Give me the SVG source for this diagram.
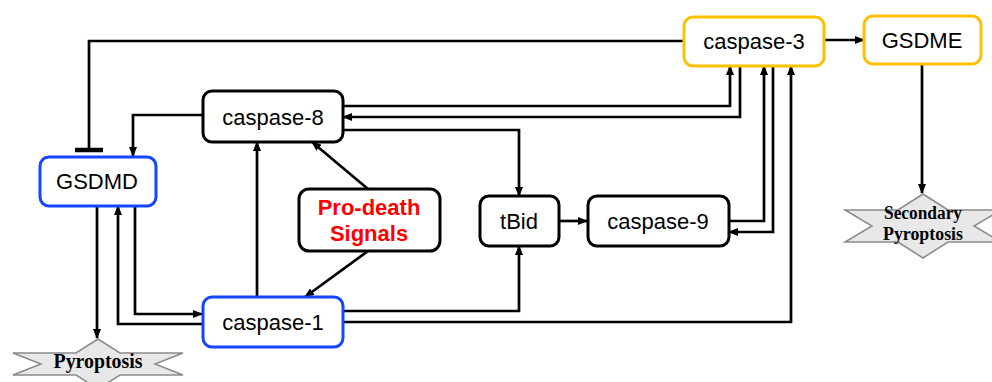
<svg xmlns="http://www.w3.org/2000/svg" width="992" height="382" viewBox="0 0 992 382">
<defs>
<style>
.box{fill:#fff;stroke-width:3}
.blk{stroke:#000}
.blue{stroke:#1446ff}
.gold{stroke:#ffc000}
.lbl{font-family:"Liberation Sans",Arial,sans-serif;font-size:22px;fill:#000;text-anchor:middle}
.red{font-family:"Liberation Sans",Arial,sans-serif;font-size:22px;font-weight:bold;fill:#ff0000;text-anchor:middle}
.star{fill:#e8e8e8;stroke:#8a8a8a;stroke-width:1.5}
.stxt{font-family:"Liberation Serif","Times New Roman",serif;font-weight:bold;fill:#000;text-anchor:middle}
.c{fill:none;stroke:#000;stroke-width:2.7}
</style>
<marker id="arr" viewBox="0 0 10 8" refX="9" refY="4" markerWidth="10" markerHeight="8" markerUnits="userSpaceOnUse" orient="auto">
<path d="M0,0 L10,4 L0,8 z" fill="#000"/>
</marker>
</defs>

<g id="connectors">
<path class="c" d="M683,41 H89 V150"/>
<line x1="75" y1="150" x2="103" y2="150" stroke="#000" stroke-width="4.5"/>
<path class="c" d="M202,115 H133 V156" marker-end="url(#arr)"/>
<path class="c" d="M257,297 V142" marker-end="url(#arr)"/>
<path class="c" d="M368,189 L312,142" marker-end="url(#arr)"/>
<path class="c" d="M368,251 L305,297" marker-end="url(#arr)"/>
<path class="c" d="M97,206 V338" marker-end="url(#arr)"/>
<path class="c" d="M135,207 V314 H202" marker-end="url(#arr)"/>
<path class="c" d="M202,324 H118 V206" marker-end="url(#arr)"/>
<path class="c" d="M343,311 H519 V246" marker-end="url(#arr)"/>
<path class="c" d="M343,322 H791 V66" marker-end="url(#arr)"/>
<path class="c" d="M343,130 H519 V196" marker-end="url(#arr)"/>
<path class="c" d="M343,106 H730 V66" marker-end="url(#arr)"/>
<path class="c" d="M740,66 V117 H343" marker-end="url(#arr)"/>
<path class="c" d="M729,221 H764 V66" marker-end="url(#arr)"/>
<path class="c" d="M773,66 V232 H729" marker-end="url(#arr)"/>
<path class="c" d="M559,221 H587" marker-end="url(#arr)"/>
<path class="c" d="M824,40 H864" marker-end="url(#arr)"/>
<path class="c" d="M922,64 V193" marker-end="url(#arr)"/>
</g>

<g id="caspase-3">
<rect class="box gold" x="684" y="17" width="140" height="49" rx="9"/>
<text class="lbl" x="754" y="49">caspase-3</text>
</g>
<g id="GSDME">
<rect class="box gold" x="864" y="16" width="117" height="48" rx="9"/>
<text class="lbl" x="922" y="48">GSDME</text>
</g>
<g id="caspase-8">
<rect class="box blk" x="203" y="91" width="140" height="51" rx="9"/>
<text class="lbl" x="273" y="125">caspase-8</text>
</g>
<g id="GSDMD">
<rect class="box blue" x="40" y="157" width="116" height="49" rx="9"/>
<text class="lbl" x="97" y="189">GSDMD</text>
</g>
<g id="pro-death">
<rect class="box blk" x="299" y="189" width="141" height="62" rx="10"/>
<text class="red" x="369" y="215">Pro-death</text>
<text class="red" x="369" y="241">Signals</text>
</g>
<g id="tBid">
<rect class="box blk" x="480" y="196" width="79" height="50" rx="9"/>
<text class="lbl" x="519" y="229">tBid</text>
</g>
<g id="caspase-9">
<rect class="box blk" x="588" y="196" width="141" height="50" rx="9"/>
<text class="lbl" x="658" y="229">caspase-9</text>
</g>
<g id="caspase-1">
<rect class="box blue" x="203" y="297" width="140" height="50" rx="9"/>
<text class="lbl" x="273" y="330">caspase-1</text>
</g>
<g id="secondary-pyroptosis">
<path class="star" d="M845,210 H898 L923,194 L948,210 H1001 L974,226 L1001,242 H948 L923,258 L898,242 H845 L872,226 Z"/>
<text class="stxt" x="923" y="219" font-size="18" textLength="78" lengthAdjust="spacingAndGlyphs">Secondary</text>
<text class="stxt" x="923" y="240" font-size="18" textLength="80" lengthAdjust="spacingAndGlyphs">Pyroptosis</text>
</g>
<g id="pyroptosis">
<path class="star" d="M13,353 H76 L98,339 L120,353 H183 L155,364 L183,375 H120 L98,389 L76,375 H13 L41,364 Z"/>
<text class="stxt" x="98" y="368" font-size="20" textLength="89" lengthAdjust="spacingAndGlyphs">Pyroptosis</text>
</g>
</svg>
